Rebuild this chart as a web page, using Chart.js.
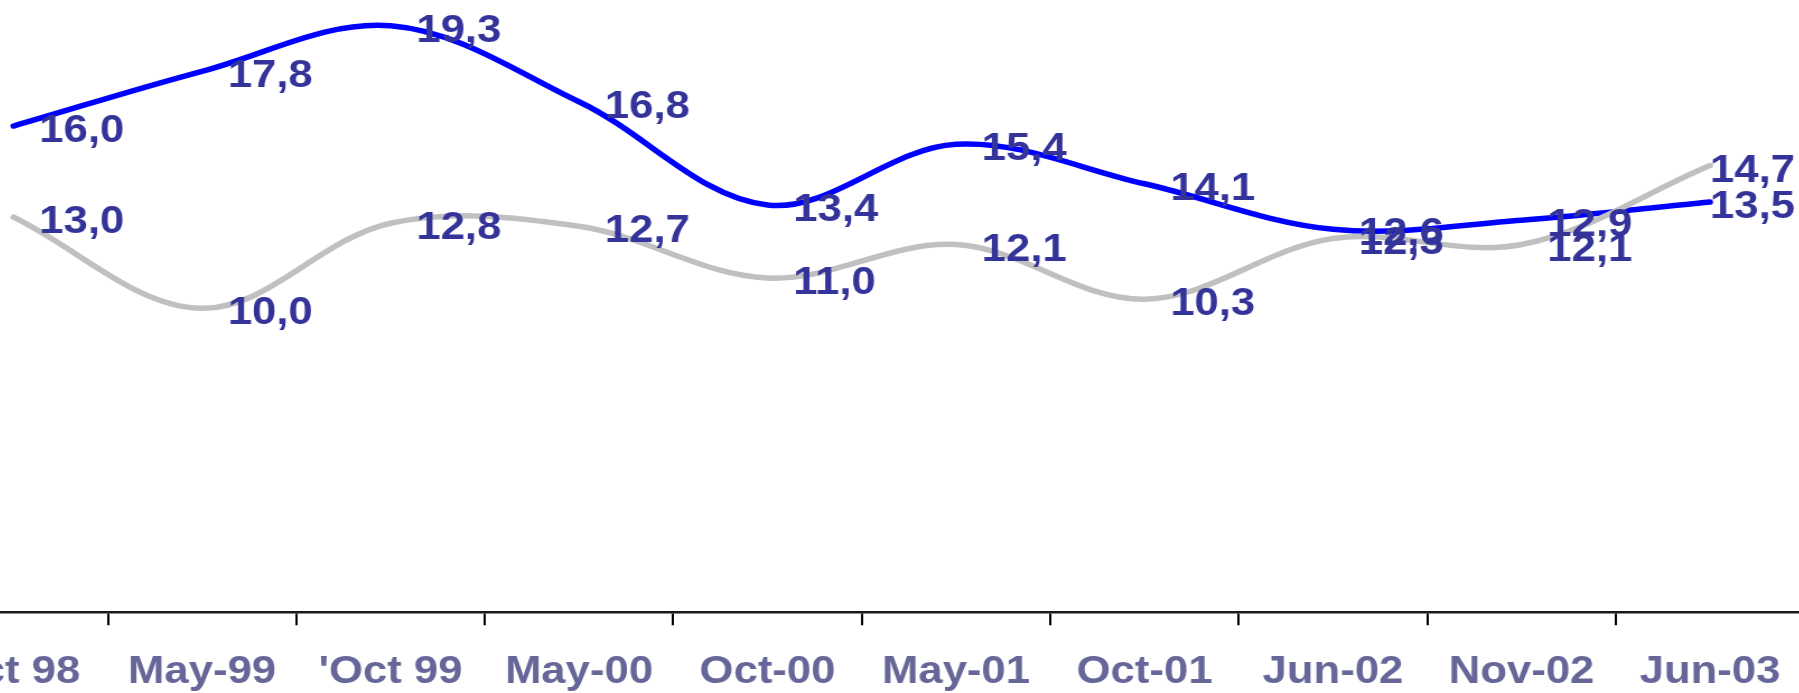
<!DOCTYPE html>
<html>
<head>
<meta charset="utf-8">
<script src="https://cdn.jsdelivr.net/npm/chart.js@4/dist/chart.umd.min.js"></script>
<style>
  html, body { margin: 0; padding: 0; background: #ffffff; overflow: hidden; width: 1799px; height: 693px; }
  #wrap { position: absolute; left: -100px; top: 0; transform: scaleX(1.12); transform-origin: 0 0; }
</style>
</head>
<body>
<div id="wrap"><canvas id="c" width="1720" height="720"></canvas></div>
<script>
// ---- data ----
const categories = ["Oct 98", "May-99", "'Oct 99", "May-00", "Oct-00", "May-01", "Oct-01", "Jun-02", "Nov-02", "Jun-03"];
const blueSeries = [16.0, 17.8, 19.3, 16.8, 13.4, 15.4, 14.1, 12.6, 12.9, 13.5];
const graySeries = [13.0, 10.0, 12.8, 12.7, 11.0, 12.1, 10.3, 12.3, 12.1, 14.7];
const yMin = 0;
const yMax = 20;

// ---- layout constants ----
const STRETCH = 1.12;
const WRAP_LEFT = -100;
const VIEW_W = 1799;

const valueLabels = {
  id: 'valueLabels',
  afterDatasetsDraw(chart) {
    const ctx = chart.ctx;
    const size = 39;
    ctx.save();
    ctx.font = 'bold ' + size + 'px "Liberation Sans", Arial, sans-serif';
    ctx.fillStyle = '#333399';
    ctx.textAlign = 'left';
    ctx.textBaseline = 'alphabetic';
    const maxRight = (VIEW_W - 4 - WRAP_LEFT) / STRETCH;
    chart.data.datasets.forEach((ds, di) => {
      const meta = chart.getDatasetMeta(di);
      meta.data.forEach((pt, i) => {
        const txt = ds.data[i].toFixed(1).replace('.', ',');
        const w = ctx.measureText(txt).width;
        let x = pt.x + 23;
        if (x + w > maxRight) x = maxRight - w;
        ctx.fillText(txt, x, pt.y + 16);
      });
    });
    ctx.restore();
  }
};

new Chart(document.getElementById('c'), {
  type: 'line',
  data: {
    labels: categories,
    datasets: [
      {
        label: 'A',
        data: graySeries,
        borderColor: '#c0c0c0',
        borderWidth: 5.5,
        borderCapStyle: 'round',
        borderJoinStyle: 'round',
        pointRadius: 0,
        tension: 0.35,
        fill: false
      },
      {
        label: 'B',
        data: blueSeries,
        borderColor: '#0000ff',
        borderWidth: 5.5,
        borderCapStyle: 'round',
        borderJoinStyle: 'round',
        pointRadius: 0,
        tension: 0.35,
        fill: false
      }
    ]
  },
  options: {
    responsive: false,
    animation: false,
    devicePixelRatio: 1,
    layout: { padding: { left: 17.2, right: 19.8, top: 4.5, bottom: 0 } },
    plugins: { legend: { display: false }, tooltip: { enabled: false } },
    scales: {
      x: {
        type: 'category',
        offset: true,
        grid: {
          offset: true,
          drawOnChartArea: false,
          drawTicks: true,
          tickLength: 13,
          tickColor: '#000000',
          lineWidth: 2
        },
        border: { display: true, color: '#1a1a1a', width: 2.5 },
        ticks: {
          color: '#666699',
          font: { family: '"Liberation Sans", Arial, sans-serif', size: 39, weight: 'bold' },
          padding: 24,
          autoSkip: false,
          maxRotation: 0,
          minRotation: 0
        }
      },
      y: {
        display: false,
        min: yMin,
        max: yMax
      }
    }
  },
  plugins: [valueLabels]
});
</script>
</body>
</html>
